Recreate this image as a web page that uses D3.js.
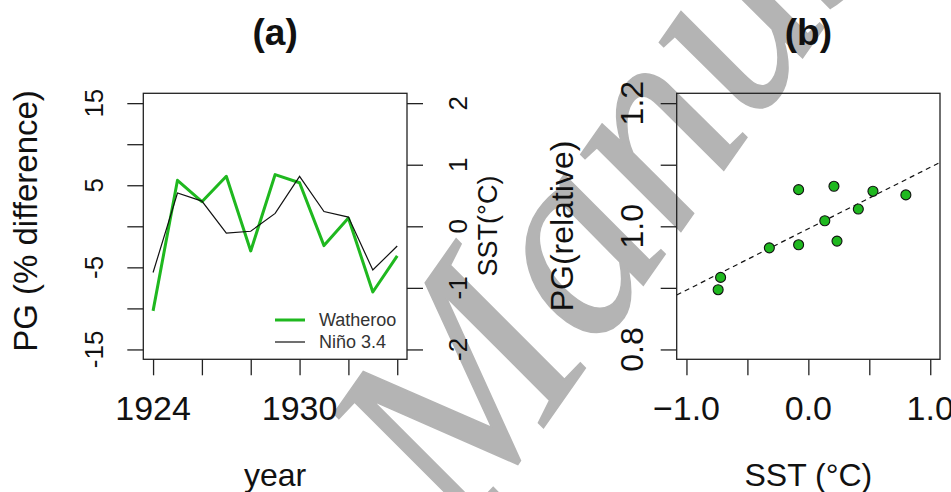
<!DOCTYPE html>
<html>
<head>
<meta charset="utf-8">
<script src="https://cdn.jsdelivr.net/npm/d3@7/dist/d3.min.js"></script>
<style>
  html, body { margin: 0; padding: 0; background: #fff; }
  svg { display: block; }
</style>
</head>
<body>
<div id="chart"></div>
<script>
// ─── Data ───────────────────────────────────────────────────────
const years = [1924, 1925, 1926, 1927, 1928, 1929, 1930, 1931, 1932, 1933, 1934];
const watherooPG = [-10.3, 5.6, 3.0, 6.1, -3.0, 6.3, 5.3, -2.35, 1.0, -8.0, -3.6];
const nino34SST = [-0.75, 0.54, 0.41, -0.11, -0.08, 0.21, 0.81, 0.24, 0.15, -0.71, -0.32];

const scatterSST = [-0.74, 0.53, 0.41, -0.08, -0.08, 0.21, 0.80, 0.235, 0.135, -0.72, -0.32];
const scatterPG = [0.897, 1.057, 1.028, 1.0595, 0.970, 1.065, 1.051, 0.976, 1.009, 0.917, 0.965];

const yearTicks = [1924, 1926, 1928, 1930, 1932, 1934];
const yearLabels = [1924, 1930];
const pgTicks = [-15, -10, -5, 0, 5, 10, 15];
const pgLabels = [-15, -5, 5, 15];
const sstTicks = [-2, -1, 0, 1, 2];
const relTicks = [0.8, 0.9, 1.0, 1.1, 1.2];
const relLabels = [0.8, 1.0, 1.2];
const sstXTicks = [-1, -0.5, 0, 0.5, 1];
const sstXLabels = [-1, 0, 1];

const legendNames = ['Watheroo', 'Niño 3.4'];

// ─── Setup ──────────────────────────────────────────────────────
const W = 951, H = 492;
const FONT = "'Liberation Sans', Arial, sans-serif";
const GREEN = '#1fb81f';
const TICK = 16;

const svg = d3.select('#chart').append('svg')
    .attr('width', W).attr('height', H);

// watermark sits behind the plots
svg.append('text')
    .attr('transform', 'translate(465,540) rotate(-55)')
    .attr('font-family', "'Liberation Serif', 'Times New Roman', serif")
    .attr('font-style', 'italic')
    .attr('font-size', 275)
    .attr('fill', '#b4b4b4')
    .attr('stroke', '#b4b4b4')
    .attr('stroke-width', 1.5)
    .text('Manuscript');

const A = { left: 143.3, right: 407, top: 93.3, bottom: 359.3 };
const B = { left: 676.7, right: 940, top: 93.3, bottom: 359.3 };

function ext(lo, hi) {
    const d = (hi - lo) * 0.04;
    return [lo - d, hi + d];
}

function label(x, y, txt, size, opts = {}) {
    const t = svg.append('text')
        .attr('transform', `translate(${x},${y})` + (opts.rotate ? ` rotate(${opts.rotate})` : ''))
        .attr('text-anchor', opts.anchor || 'middle')
        .attr('font-family', FONT)
        .attr('font-size', size)
        .attr('fill', opts.fill || '#111')
        .text(txt);
    if (opts.bold) t.attr('font-weight', 'bold');
    if (opts.dy) t.attr('dy', opts.dy);
    return t;
}

function tickLines(axisGen, tx, ty) {
    const g = svg.append('g')
        .attr('transform', `translate(${tx},${ty})`)
        .call(axisGen.tickSize(TICK).tickSizeOuter(0).tickFormat(''));
    g.select('.domain').remove();
    g.selectAll('line').attr('stroke', '#222').attr('stroke-width', 1.3);
    return g;
}

function box(r) {
    svg.append('rect')
        .attr('x', r.left).attr('y', r.top)
        .attr('width', r.right - r.left).attr('height', r.bottom - r.top)
        .attr('fill', 'none').attr('stroke', '#222').attr('stroke-width', 1.3);
}

// ─── Panel (a): time series ─────────────────────────────────────
const xA = d3.scaleLinear().domain(ext(1924, 1934)).range([A.left, A.right]);
const yPG = d3.scaleLinear().domain(ext(-15, 15)).range([A.bottom, A.top]);
const ySST = d3.scaleLinear().domain(ext(-2, 2)).range([A.bottom, A.top]);

tickLines(d3.axisBottom(xA).tickValues(yearTicks), 0, A.bottom);
tickLines(d3.axisLeft(yPG).tickValues(pgTicks), A.left, 0);
tickLines(d3.axisRight(ySST).tickValues(sstTicks), A.right, 0);

yearLabels.forEach(v => label(xA(v), 420, v, 34));
pgLabels.forEach(v => label(103, yPG(v), v, 26, { rotate: -90 }));
sstTicks.forEach(v => label(467, ySST(v), v, 26, { rotate: -90 }));

svg.append('path')
    .datum(years.map((y, i) => [y, watherooPG[i]]))
    .attr('d', d3.line().x(d => xA(d[0])).y(d => yPG(d[1])))
    .attr('fill', 'none').attr('stroke', GREEN).attr('stroke-width', 3)
    .attr('stroke-linejoin', 'round');

svg.append('path')
    .datum(years.map((y, i) => [y, nino34SST[i]]))
    .attr('d', d3.line().x(d => xA(d[0])).y(d => ySST(d[1])))
    .attr('fill', 'none').attr('stroke', '#111').attr('stroke-width', 1.2);

box(A);

// legend
const legend = [
    { name: legendNames[0], color: GREEN, width: 3, y: 320 },
    { name: legendNames[1], color: '#111', width: 1.2, y: 342 }
];
legend.forEach(d => {
    svg.append('line')
        .attr('x1', 275).attr('x2', 305).attr('y1', d.y).attr('y2', d.y)
        .attr('stroke', d.color).attr('stroke-width', d.width);
    label(319, d.y, d.name, 18, { anchor: 'start', dy: '0.36em', fill: '#333' });
});

label((A.left + A.right) / 2, 45, '(a)', 37, { bold: true });
label((A.left + A.right) / 2, 486, 'year', 32);
label(37, 221, 'PG (% difference)', 33, { rotate: -90 });
label(497, 226, 'SST(°C)', 27, { rotate: -90 });

// ─── Panel (b): scatter with fit ────────────────────────────────
const xB = d3.scaleLinear().domain(ext(-1, 1)).range([B.left, B.right]);
const yB = d3.scaleLinear().domain(ext(0.8, 1.2)).range([B.bottom, B.top]);

tickLines(d3.axisBottom(xB).tickValues(sstXTicks), 0, B.bottom);
tickLines(d3.axisLeft(yB).tickValues(relTicks), B.left, 0);

sstXLabels.forEach(v => label(xB(v), 420, d3.format('.1f')(v), 34));
relLabels.forEach(v => label(643, yB(v), d3.format('.1f')(v), 32, { rotate: -90 }));

// least-squares line across the full plot width (abline)
const mx = d3.mean(scatterSST), my = d3.mean(scatterPG);
const slope = d3.sum(scatterSST, (x, i) => (x - mx) * (scatterPG[i] - my)) /
              d3.sum(scatterSST, x => (x - mx) ** 2);
const icept = my - slope * mx;
const [x0, x1] = xB.domain();

svg.append('clipPath').attr('id', 'clipB')
    .append('rect')
    .attr('x', B.left).attr('y', B.top)
    .attr('width', B.right - B.left).attr('height', B.bottom - B.top);

svg.append('line')
    .attr('clip-path', 'url(#clipB)')
    .attr('x1', xB(x0)).attr('y1', yB(icept + slope * x0))
    .attr('x2', xB(x1)).attr('y2', yB(icept + slope * x1))
    .attr('stroke', '#111').attr('stroke-width', 1.2)
    .attr('stroke-dasharray', '5,4');

svg.append('g').selectAll('circle')
    .data(scatterSST.map((x, i) => [x, scatterPG[i]]))
    .join('circle')
    .attr('cx', d => xB(d[0]))
    .attr('cy', d => yB(d[1]))
    .attr('r', 5)
    .attr('fill', GREEN)
    .attr('stroke', '#111')
    .attr('stroke-width', 1.1);

box(B);

label((B.left + B.right) / 2, 45, '(b)', 37, { bold: true });
label((B.left + B.right) / 2, 486, 'SST (°C)', 32);
label(573, 226, 'PG(relative)', 32, { rotate: -90 });
</script>
</body>
</html>
